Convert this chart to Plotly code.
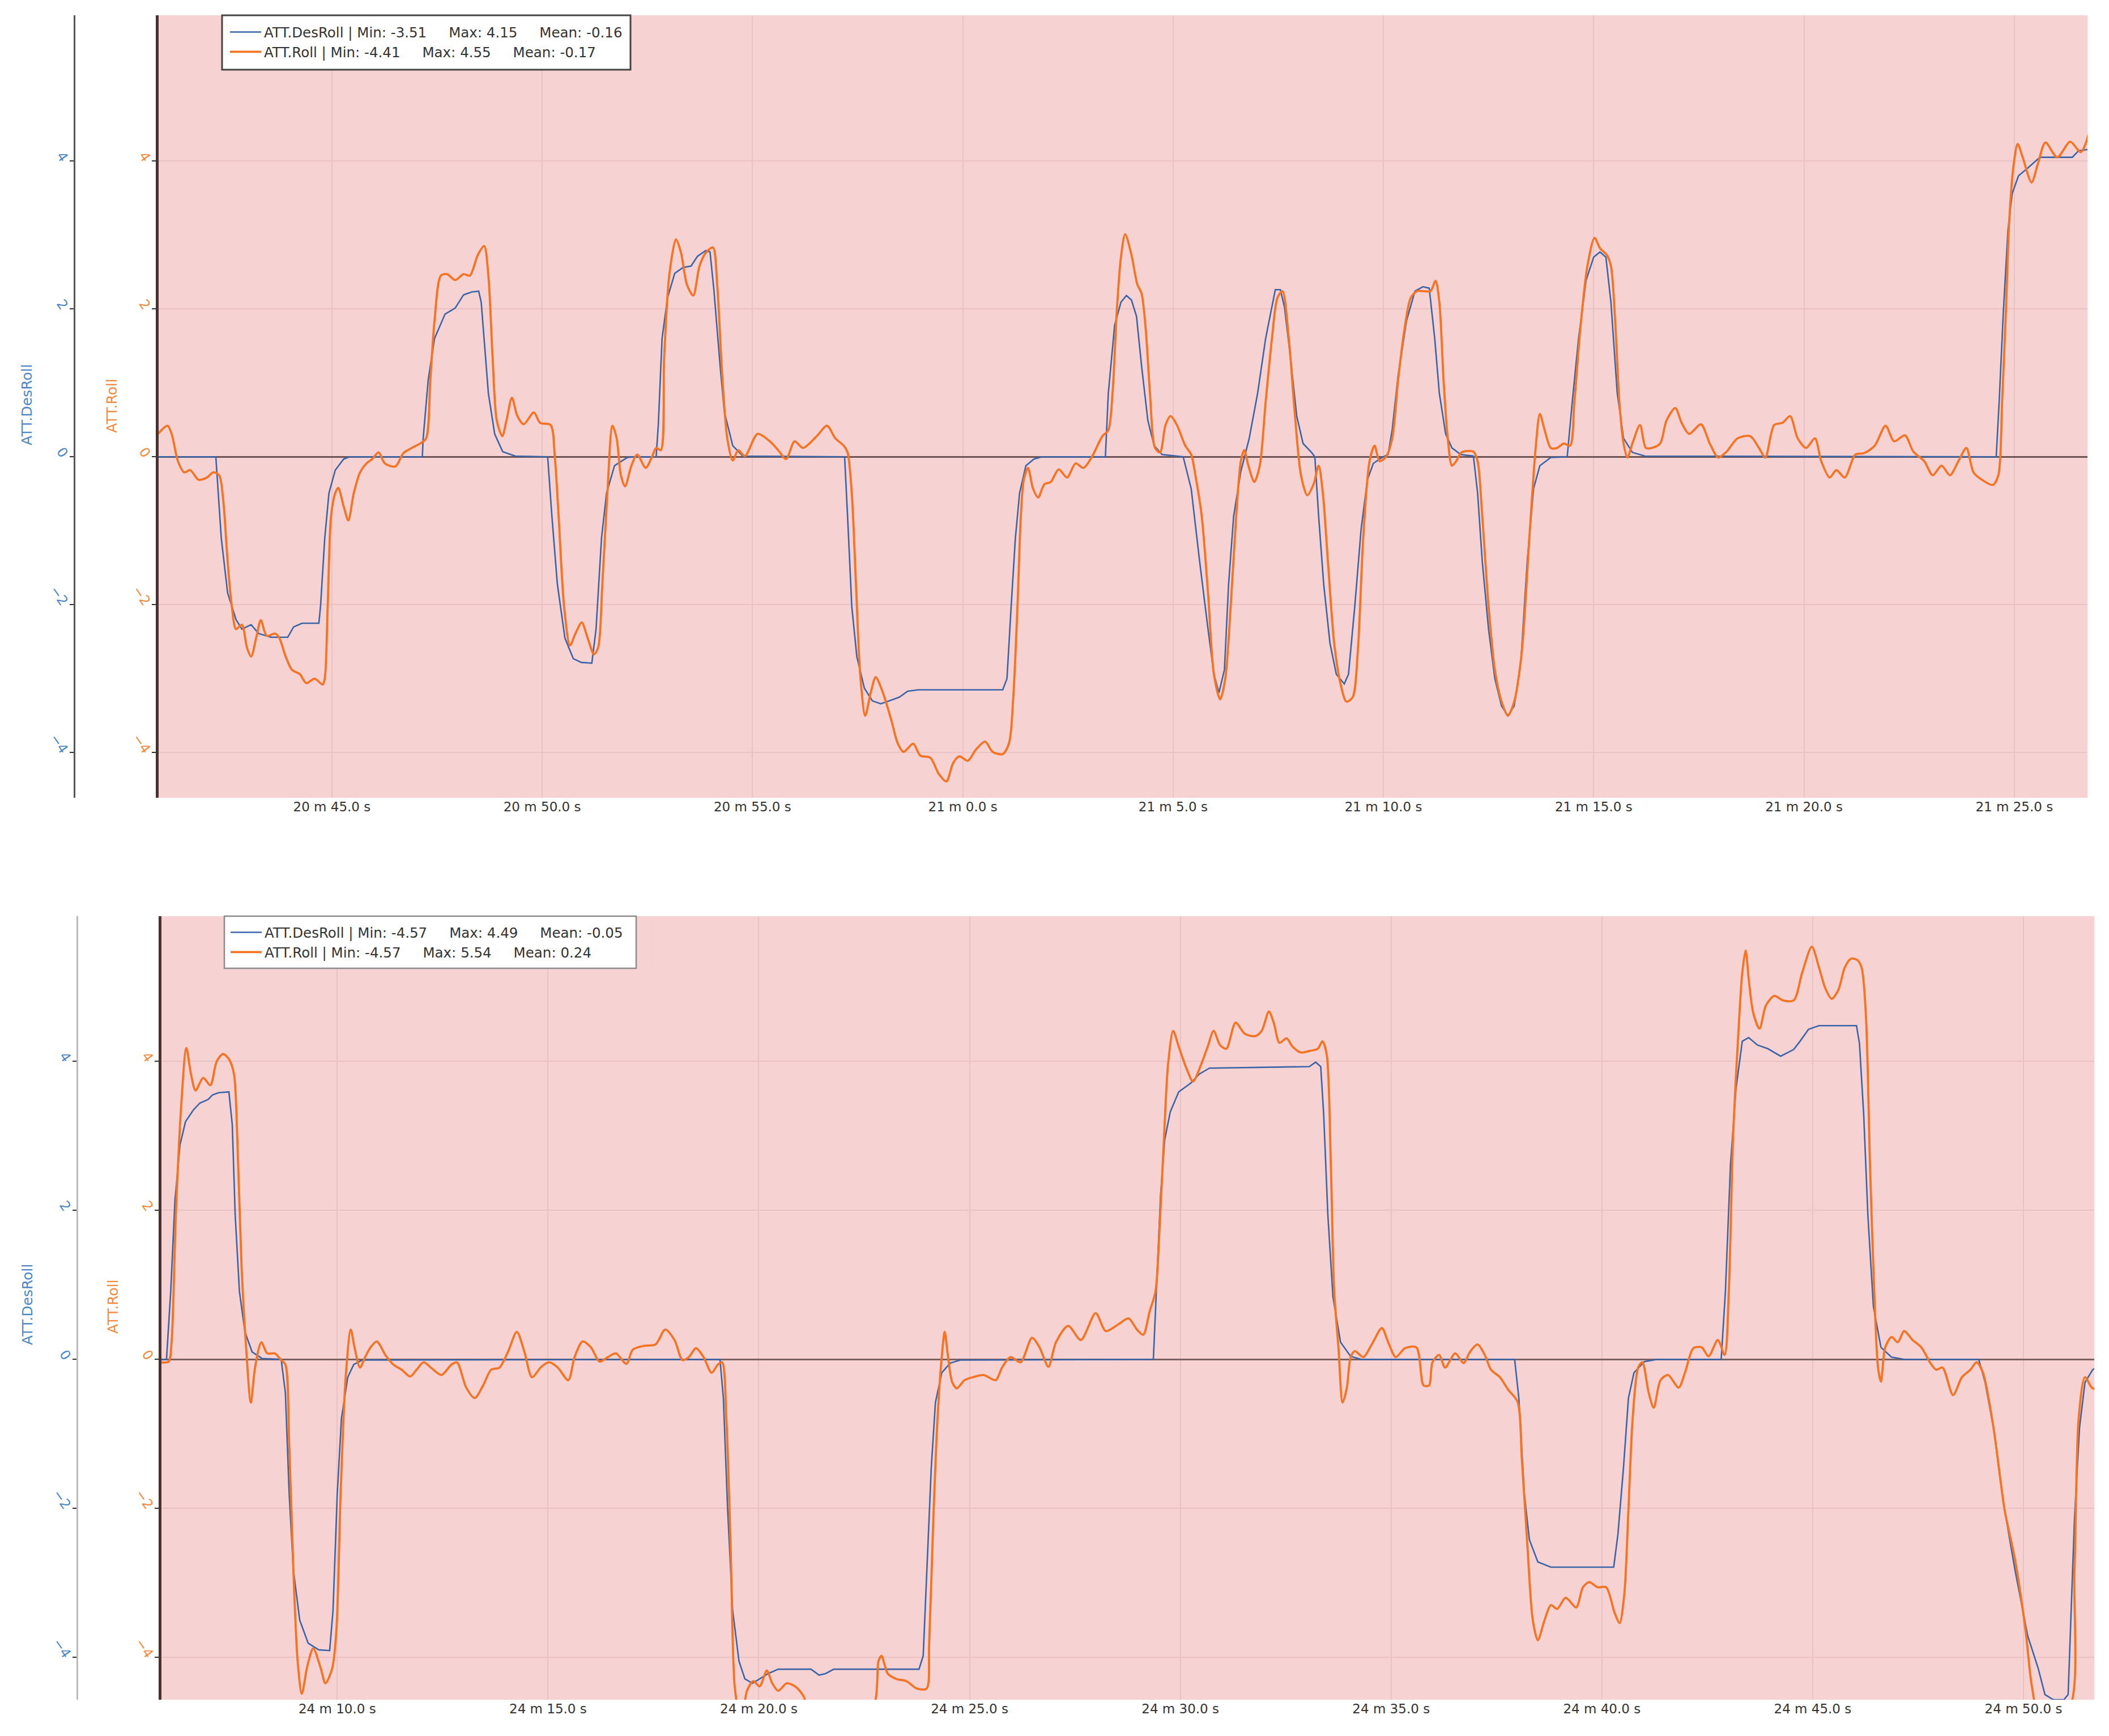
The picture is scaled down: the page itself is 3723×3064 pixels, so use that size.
import plotly.graph_objects as go

# ---------------- data (seconds after 20 m / 24 m) ----------------
top_des_t = [40.85, 42.24, 42.37, 42.52, 42.72, 42.86, 43.08, 43.26, 43.55, 43.95, 44.09, 44.29, 44.69, 44.73,
             44.83, 44.93, 45.08, 45.28, 45.42, 47.15, 47.17, 47.29, 47.44, 47.69, 47.93, 48.00, 48.13, 48.33,
             48.49, 48.55, 48.62, 48.72, 48.87, 49.06, 49.36, 50.13, 50.23, 50.36, 50.54, 50.74, 50.93, 51.18,
             51.28, 51.41, 51.53, 51.72, 52.02, 52.21, 52.71, 52.76, 52.85, 52.98, 53.15, 53.35, 53.54, 53.69,
             53.89, 53.99, 54.08, 54.23, 54.33, 54.53, 54.77, 57.19, 57.26, 57.36, 57.48, 57.66, 57.85, 58.05,
             58.25, 58.49, 58.69, 58.94, 60.95, 61.05, 61.15, 61.25, 61.35, 61.50, 61.69, 61.89, 63.39, 63.46,
             63.61, 63.76, 63.89, 64.01, 64.13, 64.25, 64.40, 64.55, 64.74, 65.24, 65.43, 65.63, 65.83, 65.97,
             66.09, 66.22, 66.32, 66.44, 66.61, 66.81, 67.01, 67.20, 67.43, 67.55, 67.65, 67.80, 67.94, 68.09,
             68.29, 68.37, 68.46, 68.58, 68.73, 68.88, 69.07, 69.17, 69.32, 69.47, 69.62, 69.76, 69.96, 70.11,
             70.21, 70.35, 70.55, 70.75, 70.94, 71.09, 71.22, 71.33, 71.48, 71.63, 71.84, 72.14, 72.24, 72.35,
             72.50, 72.65, 72.81, 72.96, 73.11, 73.27, 73.42, 73.57, 73.72, 73.98, 74.37, 74.49, 74.64, 74.82,
             75.00, 75.15, 75.29, 75.41, 75.56, 75.71, 75.92, 76.22, 84.57, 84.64, 84.74, 84.85, 84.95, 85.10,
             85.31, 85.61, 86.38, 86.53, 86.82]
top_des_v = [0, 0, -1.10, -1.84, -2.20, -2.33, -2.27, -2.39, -2.44, -2.44, -2.30, -2.25, -2.25, -2.02,
             -1.10, -0.49, -0.18, -0.03, 0, 0, 0.25, 1.04, 1.60, 1.93, 2.01, 2.07, 2.19, 2.23,
             2.24, 2.09, 1.60, 0.86, 0.31, 0.07, 0.01, 0, -0.80, -1.72, -2.45, -2.73, -2.78, -2.79,
             -2.33, -1.10, -0.49, -0.12, -0.01, 0, 0, 0.43, 1.60, 2.15, 2.48, 2.56, 2.58, 2.71,
             2.79, 2.77, 2.27, 1.23, 0.61, 0.15, 0.01, 0, -0.80, -2.02, -2.70, -3.13, -3.30, -3.34,
             -3.30, -3.25, -3.17, -3.15, -3.15, -3.00, -2.02, -1.10, -0.49, -0.12, -0.03, 0, 0, 0.86,
             1.78, 2.09, 2.18, 2.12, 1.90, 1.23, 0.49, 0.15, 0.03, 0, -0.43, -1.41, -2.33, -2.94,
             -3.19, -2.88, -1.72, -0.80, -0.20, 0.25, 0.86, 1.60, 2.26, 2.26, 2.02, 1.29, 0.55, 0.18,
             0.06, 0, -0.80, -1.72, -2.52, -2.94, -3.07, -2.94, -2.02, -0.98, -0.31, -0.09, -0.01, 0.03,
             0.37, 1.10, 1.84, 2.24, 2.30, 2.28, 1.60, 0.86, 0.31, 0.12, 0.03, 0.01, -0.49, -1.41,
             -2.33, -3.00, -3.37, -3.50, -3.37, -2.76, -1.41, -0.43, -0.12, -0.01, 0, 0.74, 1.60, 2.39,
             2.70, 2.77, 2.70, 2.09, 0.86, 0.25, 0.06, 0.01, 0, 0.74, 1.96, 3.07, 3.56, 3.80,
             3.90, 4.05, 4.05, 4.14, 4.16]

top_roll_t = [40.85, 41.09, 41.19, 41.34, 41.49, 41.63, 41.83, 42.03, 42.18, 42.32, 42.42, 42.52, 42.62, 42.72,
              42.86, 42.98, 43.08, 43.21, 43.31, 43.45, 43.65, 43.75, 43.90, 44.05, 44.24, 44.39, 44.59, 44.78,
              44.83, 44.90, 44.98, 45.08, 45.15, 45.28, 45.39, 45.52, 45.67, 45.82, 45.96, 46.11, 46.26, 46.51,
              46.70, 46.90, 47.10, 47.24, 47.34, 47.44, 47.59, 47.74, 47.93, 48.13, 48.28, 48.47, 48.62, 48.72,
              48.82, 48.92, 49.05, 49.15, 49.28, 49.41, 49.56, 49.80, 49.95, 50.20, 50.30, 50.39, 50.52, 50.66,
              50.79, 50.94, 51.08, 51.23, 51.33, 51.43, 51.55, 51.67, 51.77, 51.87, 51.97, 52.12, 52.26, 52.46,
              52.61, 52.71, 52.82, 52.90, 53.02, 53.18, 53.30, 53.44, 53.59, 53.74, 53.89, 54.06, 54.16, 54.28,
              54.40, 54.53, 54.66, 54.82, 55.12, 55.41, 55.61, 55.80, 56.00, 56.20, 56.53, 56.77, 56.97, 57.17,
              57.26, 57.36, 57.46, 57.56, 57.68, 57.81, 57.93, 58.10, 58.30, 58.45, 58.59, 58.82, 58.99, 59.23,
              59.43, 59.61, 59.77, 59.92, 60.12, 60.31, 60.53, 60.71, 60.95, 61.10, 61.20, 61.30, 61.38, 61.45,
              61.55, 61.67, 61.79, 61.94, 62.09, 62.28, 62.48, 62.68, 62.87, 63.07, 63.32, 63.46, 63.56, 63.66,
              63.76, 63.86, 64.01, 64.15, 64.25, 64.35, 64.45, 64.57, 64.69, 64.82, 64.94, 65.09, 65.29, 65.43,
              65.53, 65.68, 65.83, 65.97, 66.12, 66.24, 66.37, 66.50, 66.61, 66.69, 66.79, 66.93, 67.06, 67.20,
              67.35, 67.48, 67.60, 67.75, 67.89, 68.04, 68.19, 68.34, 68.46, 68.56, 68.68, 68.83, 68.98, 69.12,
              69.27, 69.39, 69.52, 69.67, 69.79, 69.91, 70.06, 70.21, 70.35, 70.50, 70.65, 70.80, 70.94, 71.12,
              71.24, 71.33, 71.43, 71.53, 71.63, 71.73, 71.86, 72.14, 72.24, 72.35, 72.50, 72.65, 72.81, 72.96,
              73.11, 73.29, 73.47, 73.62, 73.72, 73.83, 73.98, 74.13, 74.29, 74.44, 74.54, 74.69, 74.85, 75.02,
              75.15, 75.31, 75.41, 75.51, 75.61, 75.71, 75.80, 75.92, 76.10, 76.24, 76.38, 76.58, 76.73, 76.94,
              77.09, 77.27, 77.55, 77.76, 77.96, 78.16, 78.42, 78.72, 78.93, 79.08, 79.29, 79.49, 79.67, 79.85,
              80.05, 80.26, 80.41, 80.61, 80.77, 80.97, 81.22, 81.43, 81.68, 81.94, 82.14, 82.40, 82.60, 82.86,
              83.06, 83.27, 83.47, 83.67, 83.86, 84.03, 84.23, 84.49, 84.62, 84.71, 84.80, 84.88, 84.98, 85.08,
              85.20, 85.41, 85.56, 85.74, 86.02, 86.33, 86.58, 86.73, 86.82]
top_roll_v = [0.30, 0.42, 0.31, -0.06, -0.21, -0.18, -0.31, -0.28, -0.21, -0.25, -0.61, -1.41, -2.02, -2.33,
              -2.27, -2.58, -2.70, -2.42, -2.21, -2.42, -2.39, -2.45, -2.70, -2.88, -2.94, -3.06, -3.00, -3.08,
              -3.00, -2.02, -0.80, -0.49, -0.42, -0.67, -0.86, -0.49, -0.21, -0.09, -0.03, 0.06, -0.09, -0.13,
              0.05, 0.12, 0.18, 0.25, 1.04, 1.84, 2.45, 2.47, 2.39, 2.47, 2.45, 2.73, 2.85, 2.45,
              1.35, 0.49, 0.28, 0.49, 0.80, 0.55, 0.44, 0.60, 0.46, 0.43, 0.00, -0.80, -2.02, -2.55,
              -2.39, -2.24, -2.45, -2.67, -2.58, -1.72, -0.49, 0.42, 0.25, -0.25, -0.40, -0.12, 0.03, -0.15,
              0.00, 0.12, 0.09, 1.35, 2.45, 2.94, 2.76, 2.33, 2.18, 2.58, 2.76, 2.83, 2.33, 1.10,
              0.25, -0.05, 0.09, 0.01, 0.31, 0.21, 0.09, -0.03, 0.21, 0.12, 0.28, 0.42, 0.25, 0.15,
              0.06, -0.49, -1.72, -2.94, -3.50, -3.19, -2.98, -3.19, -3.56, -3.87, -3.99, -3.88, -4.04, -4.07,
              -4.29, -4.39, -4.14, -4.05, -4.11, -3.96, -3.85, -3.99, -4.02, -3.87, -3.25, -2.02, -0.80, -0.31,
              -0.15, -0.43, -0.55, -0.37, -0.34, -0.17, -0.28, -0.09, -0.15, 0.00, 0.28, 0.36, 0.86, 1.96,
              2.70, 3.01, 2.73, 2.33, 2.21, 1.72, 0.86, 0.12, 0.06, 0.43, 0.55, 0.43, 0.15, 0.03,
              -0.25, -0.80, -1.84, -2.94, -3.28, -3.00, -2.02, -0.80, -0.06, 0.09, -0.12, -0.34, -0.12, 0.74,
              1.60, 2.15, 2.24, 1.60, 0.61, -0.25, -0.52, -0.37, -0.12, -0.49, -1.41, -2.52, -3.07, -3.31,
              -3.25, -2.64, -1.10, -0.06, 0.15, -0.06, 0.00, 0.25, 1.04, 1.72, 2.15, 2.24, 2.24, 2.24,
              2.38, 2.09, 1.04, 0.25, -0.12, -0.06, 0.06, 0.07, -0.06, -0.80, -2.02, -2.88, -3.31, -3.50,
              -3.31, -2.64, -1.10, 0.12, 0.58, 0.37, 0.12, 0.12, 0.18, 0.15, 0.74, 1.78, 2.58, 2.96,
              2.82, 2.73, 2.58, 1.84, 0.74, 0.18, -0.01, 0.18, 0.43, 0.12, 0.12, 0.18, 0.49, 0.66,
              0.46, 0.31, 0.44, 0.18, -0.01, 0.07, 0.25, 0.28, 0.12, -0.01, 0.43, 0.46, 0.55, 0.25,
              0.12, 0.25, -0.06, -0.28, -0.18, -0.28, 0.03, 0.05, 0.15, 0.42, 0.21, 0.29, 0.07, -0.06,
              -0.25, -0.12, -0.25, -0.06, 0.12, -0.21, -0.31, -0.38, -0.25, 0.74, 1.96, 3.19, 3.93, 4.23,
              4.05, 3.71, 3.96, 4.25, 4.05, 4.26, 4.12, 4.29, 4.55]

bot_des_t = [5.80, 5.95, 6.05, 6.15, 6.27, 6.40, 6.59, 6.74, 6.94, 7.04, 7.19, 7.43, 7.51, 7.58, 7.68, 7.81,
             7.98, 8.22, 8.67, 8.77, 8.86, 8.96, 9.11, 9.31, 9.56, 9.82, 9.90, 10.00, 10.10, 10.25, 10.39,
             10.59, 19.08, 19.16, 19.26, 19.38, 19.53, 19.67, 19.85, 20.02, 20.22, 20.46, 21.24, 21.43, 21.58,
             21.78, 23.80, 23.90, 23.99, 24.09, 24.19, 24.34, 24.54, 24.78, 29.36, 29.43, 29.53, 29.63, 29.76,
             29.96, 30.25, 30.45, 30.69, 33.06, 33.21, 33.33, 33.40, 33.50, 33.62, 33.80, 34.04, 34.29, 37.93,
             38.03, 38.16, 38.28, 38.48, 38.79, 40.28, 40.38, 40.51, 40.63, 40.76, 41.01, 41.31, 42.83, 42.93,
             43.05, 43.18, 43.33, 43.48, 43.69, 43.94, 44.24, 44.55, 44.70, 44.90, 45.15, 46.04, 46.11, 46.21,
             46.31, 46.44, 46.62, 46.87, 47.17, 48.94, 49.09, 49.29, 49.55, 49.80, 50.10, 50.35, 50.51, 50.71,
             50.96, 51.06, 51.21, 51.33, 51.46, 51.64, 51.70]
bot_des_v = [0, 0, 0.91, 2.13, 2.88, 3.19, 3.35, 3.44, 3.49, 3.55, 3.58, 3.59, 3.15, 1.93, 0.91, 0.37,
             0.10, 0.01, 0, -0.45, -1.81, -2.83, -3.50, -3.81, -3.90, -3.91, -3.37, -1.81, -0.79, -0.24, -0.07,
             -0.01, 0, -0.52, -2.01, -3.37, -4.05, -4.29, -4.35, -4.29, -4.22, -4.16, -4.16, -4.24, -4.22,
             -4.16, -4.16, -3.98, -2.83, -1.47, -0.58, -0.18, -0.05, -0.01, 0, 0.91, 2.20, 2.95, 3.32,
             3.59, 3.71, 3.83, 3.91, 3.93, 3.99, 3.93, 3.29, 1.93, 0.84, 0.23, 0.04, 0, 0,
             -0.52, -1.81, -2.42, -2.72, -2.79, -2.79, -2.35, -1.47, -0.52, -0.18, -0.03, 0, 0, 0.91,
             2.61, 3.63, 4.27, 4.32, 4.22, 4.17, 4.07, 4.16, 4.27, 4.43, 4.48, 4.48, 4.24, 3.29,
             1.93, 0.71, 0.16, 0.03, 0, 0, -0.31, -0.92, -2.01, -2.83, -3.71, -4.15, -4.50, -4.57,
             -4.57, -4.50, -2.15, -0.92, -0.31, -0.14, -0.12]

bot_roll_t = [5.80, 6.00, 6.07, 6.17, 6.30, 6.42, 6.53, 6.64, 6.82, 6.99, 7.14, 7.29, 7.43, 7.55, 7.63, 7.73,
              7.83, 7.95, 8.05, 8.20, 8.34, 8.52, 8.67, 8.77, 8.86, 8.96, 9.06, 9.16, 9.29, 9.43, 9.61, 9.72,
              9.88, 9.98, 10.08, 10.20, 10.32, 10.41, 10.54, 10.66, 10.79, 10.94, 11.14, 11.33, 11.53, 11.73,
              11.88, 12.05, 12.22, 12.47, 12.71, 12.84, 13.06, 13.26, 13.46, 13.65, 13.85, 14.05, 14.26, 14.44,
              14.62, 14.84, 15.03, 15.23, 15.48, 15.63, 15.82, 16.02, 16.22, 16.42, 16.61, 16.86, 17.01, 17.26,
              17.55, 17.78, 18.00, 18.19, 18.34, 18.51, 18.69, 18.88, 19.03, 19.13, 19.23, 19.33, 19.43, 19.53,
              19.62, 19.72, 19.87, 20.02, 20.19, 20.32, 20.46, 20.66, 20.86, 21.06, 21.20, 22.67, 22.84, 22.91,
              23.06, 23.26, 23.50, 23.75, 23.98, 24.04, 24.14, 24.24, 24.34, 24.41, 24.49, 24.59, 24.70, 24.88,
              25.08, 25.33, 25.62, 25.77, 25.97, 26.21, 26.48, 26.66, 26.87, 27.05, 27.34, 27.64, 27.99, 28.23,
              28.53, 28.77, 28.97, 29.12, 29.27, 29.41, 29.51, 29.61, 29.71, 29.83, 29.96, 30.15, 30.30, 30.50,
              30.65, 30.79, 30.94, 31.09, 31.31, 31.53, 31.78, 31.93, 32.10, 32.22, 32.35, 32.52, 32.66, 32.86,
              33.06, 33.26, 33.37, 33.47, 33.57, 33.65, 33.75, 33.85, 33.95, 34.04, 34.14, 34.34, 34.54, 34.78,
              34.93, 35.11, 35.33, 35.60, 35.77, 35.90, 35.98, 36.14, 36.28, 36.52, 36.72, 36.87, 37.05, 37.22,
              37.37, 37.58, 37.78, 38.00, 38.10, 38.23, 38.36, 38.48, 38.64, 38.79, 38.94, 39.14, 39.39, 39.55,
              39.70, 39.90, 40.10, 40.30, 40.42, 40.53, 40.63, 40.73, 40.86, 40.96, 41.11, 41.23, 41.39, 41.57,
              41.82, 41.97, 42.17, 42.37, 42.53, 42.75, 42.91, 43.01, 43.11, 43.23, 43.33, 43.41, 43.48, 43.59,
              43.74, 43.89, 44.09, 44.29, 44.55, 44.75, 44.98, 45.15, 45.30, 45.45, 45.61, 45.76, 45.91, 46.06,
              46.16, 46.26, 46.36, 46.46, 46.55, 46.62, 46.72, 46.87, 47.02, 47.17, 47.37, 47.58, 47.78, 47.93,
              48.08, 48.33, 48.54, 48.74, 48.89, 49.04, 49.29, 49.55, 49.80, 50.05, 50.20, 50.35, 51.06, 51.21,
              51.31, 51.46, 51.62, 51.70]
bot_roll_v = [-0.04, -0.03, 0.23, 1.93, 3.42, 4.18, 3.83, 3.61, 3.78, 3.68, 4.00, 4.10, 4.03, 3.83, 2.95, 1.25,
              0.23, -0.58, -0.11, 0.23, 0.08, 0.08, -0.01, -0.07, -1.13, -2.83, -4.05, -4.49, -4.12, -3.88, -4.15, -4.35,
              -4.15, -3.64, -1.81, -0.24, 0.40, 0.16, -0.11, 0.03, 0.16, 0.24, 0.06, -0.07, -0.14, -0.23,
              -0.14, -0.04, -0.11, -0.21, -0.07, -0.04, -0.38, -0.52, -0.35, -0.14, -0.11, 0.10, 0.37, 0.10,
              -0.24, -0.10, -0.04, -0.11, -0.28, 0.03, 0.24, 0.16, -0.03, 0.03, 0.08, -0.06, 0.13, 0.18,
              0.20, 0.40, 0.26, -0.01, 0.03, 0.15, 0.03, -0.18, -0.07, -0.04, -0.79, -2.49, -4.40, -4.70,
              -4.70, -4.45, -4.32, -4.39, -4.18, -4.35, -4.45, -4.35, -4.39, -4.52, -4.70, -4.70, -4.05, -3.98,
              -4.22, -4.29, -4.32, -4.42, -4.42, -3.84, -2.15, -0.79, 0.03, 0.37, 0.03, -0.31, -0.39, -0.28,
              -0.24, -0.21, -0.28, -0.11, 0.03, -0.04, 0.29, 0.16, -0.10, 0.23, 0.45, 0.26, 0.62, 0.38,
              0.47, 0.55, 0.40, 0.33, 0.64, 0.91, 1.79, 2.95, 3.97, 4.41, 4.20, 3.90, 3.73, 3.97,
              4.20, 4.41, 4.22, 4.17, 4.52, 4.37, 4.34, 4.41, 4.67, 4.51, 4.25, 4.31, 4.20, 4.12,
              4.14, 4.17, 4.27, 4.10, 2.61, 0.91, 0.16, -0.58, -0.38, 0.03, 0.11, 0.03, 0.20, 0.42,
              0.23, 0.03, 0.15, 0.16, -0.35, -0.35, -0.04, 0.06, -0.11, 0.08, -0.05, 0.10, 0.20, 0.06,
              -0.14, -0.24, -0.41, -0.57, -1.33, -2.48, -3.50, -3.77, -3.50, -3.30, -3.35, -3.20, -3.33, -3.06,
              -2.99, -3.06, -3.06, -3.40, -3.54, -3.16, -2.01, -0.79, -0.11, -0.04, -0.45, -0.65, -0.28, -0.21,
              -0.38, -0.18, 0.15, 0.16, 0.04, 0.26, 0.06, 0.91, 2.95, 4.31, 5.19, 5.49, 5.12, 4.65,
              4.44, 4.75, 4.88, 4.82, 4.82, 5.19, 5.54, 5.26, 4.98, 4.84, 4.96, 5.26, 5.38, 5.36,
              5.26, 4.65, 2.61, 0.91, -0.11, -0.30, 0.16, 0.30, 0.23, 0.38, 0.26, 0.16, -0.04, -0.14,
              -0.11, -0.48, -0.24, -0.14, -0.04, -0.18, -0.92, -2.01, -2.69, -3.64, -4.39, -4.70, -4.70, -2.83,
              -0.79, -0.24, -0.38, -0.40]

top_tick_vals = [45, 50, 55, 60, 65, 70, 75, 80, 85]
top_tick_text = ["20 m 45.0 s", "20 m 50.0 s", "20 m 55.0 s", "21 m 0.0 s", "21 m 5.0 s",
                 "21 m 10.0 s", "21 m 15.0 s", "21 m 20.0 s", "21 m 25.0 s"]
bot_tick_vals = [10, 15, 20, 25, 30, 35, 40, 45, 50]
bot_tick_text = ["24 m 10.0 s", "24 m 15.0 s", "24 m 20.0 s", "24 m 25.0 s", "24 m 30.0 s",
                 "24 m 35.0 s", "24 m 40.0 s", "24 m 45.0 s", "24 m 50.0 s"]
y_tick_vals = [-4, -2, 0, 2, 4]

top_stats = {"ATT.DesRoll": ("-3.51", "4.15", "-0.16"), "ATT.Roll": ("-4.41", "4.55", "-0.17")}
bot_stats = {"ATT.DesRoll": ("-4.57", "4.49", "-0.05"), "ATT.Roll": ("-4.57", "5.54", "0.24")}

# ---------------- styling ----------------
W, H = 3723, 3064
FONT = "Verdana, DejaVu Sans, sans-serif"
BLUE = "#3a64a8"
ORANGE = "#f47424"
BLUE_TXT = "#4a86c8"
ORANGE_TXT = "#f5883a"
PLOT_BG = "#f7d2d3"
GRID = "#ebc2c3"
GAP = "\u00a0" * 5


def label(name, stats):
    mn, mx, me = stats[name]
    return f"{name} | Min: {mn}{GAP}Max: {mx}{GAP}Mean: {me}"


fig = go.Figure()
fig.add_trace(go.Scatter(x=top_des_t, y=top_des_v, mode="lines", name=label("ATT.DesRoll", top_stats),
                         line=dict(color=BLUE, width=2.6), xaxis="x", yaxis="y", legend="legend"))
fig.add_trace(go.Scatter(x=top_roll_t, y=top_roll_v, mode="lines", name=label("ATT.Roll", top_stats),
                         line=dict(color=ORANGE, width=3.8, shape="spline", smoothing=0.8),
                         xaxis="x", yaxis="y2", legend="legend"))
fig.add_trace(go.Scatter(x=bot_des_t, y=bot_des_v, mode="lines", name=label("ATT.DesRoll", bot_stats),
                         line=dict(color=BLUE, width=2.6), xaxis="x2", yaxis="y3", legend="legend2"))
fig.add_trace(go.Scatter(x=bot_roll_t, y=bot_roll_v, mode="lines", name=label("ATT.Roll", bot_stats),
                         line=dict(color=ORANGE, width=3.8, shape="spline", smoothing=0.8),
                         xaxis="x2", yaxis="y4", legend="legend2"))

top_dom = [1 - 1408 / H, 1 - 27 / H]
bot_dom = [1 - 3000 / H, 1 - 1617 / H]
top_range = [-4.61, 5.97]
bot_range = [-4.57, 5.95]

xcommon = dict(showgrid=True, gridcolor=GRID, gridwidth=2, zeroline=False, showline=False, ticks="",
               tickfont=dict(family=FONT, size=23, color="#333333"))
ytick_common = dict(tickvals=y_tick_vals, ticks="outside", ticklen=7, tickwidth=2, tickcolor="#333333",
                    tickangle=55)

legend_common = dict(xanchor="left", yanchor="top", bgcolor="rgba(0,0,0,0)", borderwidth=0,
                     font=dict(family=FONT, size=24.5, color="#333333"), itemwidth=55, tracegroupgap=0)

fig.update_layout(
    width=W, height=H, margin=dict(l=0, r=0, t=0, b=0),
    paper_bgcolor="white", plot_bgcolor=PLOT_BG, font=dict(family=FONT),
    xaxis=dict(domain=[280 / W, 3685 / W], range=[40.88, 86.74], anchor="y",
               tickvals=top_tick_vals, ticktext=top_tick_text, **xcommon),
    yaxis=dict(domain=top_dom, range=top_range, anchor="free", position=130.5 / W, side="left",
               showline=True, linecolor="#555555", linewidth=3, showgrid=False, zeroline=False,
               tickfont=dict(family=FONT, size=24, color=BLUE_TXT), **ytick_common),
    yaxis2=dict(overlaying="y", range=top_range, anchor="x", side="left",
                showline=True, linecolor="#4a3232", linewidth=5, showgrid=True, gridcolor=GRID, gridwidth=2,
                zeroline=True, zerolinecolor="#6d5454", zerolinewidth=3,
                tickfont=dict(family=FONT, size=24, color=ORANGE_TXT), **ytick_common),
    xaxis2=dict(domain=[285 / W, 3697 / W], range=[5.83, 51.68], anchor="y3",
                tickvals=bot_tick_vals, ticktext=bot_tick_text, **xcommon),
    yaxis3=dict(domain=bot_dom, range=bot_range, anchor="free", position=135.5 / W, side="left",
                showline=True, linecolor="#bbbbbb", linewidth=3, showgrid=False, zeroline=False,
                tickfont=dict(family=FONT, size=24, color=BLUE_TXT), **ytick_common),
    yaxis4=dict(overlaying="y3", range=bot_range, anchor="x2", side="left",
                showline=True, linecolor="#4a3232", linewidth=5, showgrid=True, gridcolor=GRID, gridwidth=2,
                zeroline=True, zerolinecolor="#7a6262", zerolinewidth=3,
                tickfont=dict(family=FONT, size=24, color=ORANGE_TXT), **ytick_common),
    legend=dict(x=401 / W, y=1 - 34 / H, **legend_common),
    legend2=dict(x=402 / W, y=1 - 1623 / H, **legend_common),
    showlegend=True,
)

# legend frames (white boxes behind the legend entries)
for (x0, y0, x1, y1, col, lw) in [(392, 27, 1113, 123, "#444444", 3), (396, 1617, 1123, 1709, "#8a8a8a", 2.5)]:
    fig.add_shape(type="rect", xref="paper", yref="paper", x0=x0 / W, x1=x1 / W, y0=1 - y1 / H, y1=1 - y0 / H,
                  fillcolor="white", line=dict(color=col, width=lw), layer="above")

ann = [
    ("ATT.DesRoll", 47, 715, BLUE_TXT),
    ("ATT.Roll", 197, 716, ORANGE_TXT),
    ("ATT.DesRoll", 48, 2303, BLUE_TXT),
    ("ATT.Roll", 199, 2306, ORANGE_TXT),
]
for text, px, py, col in ann:
    fig.add_annotation(text=text, x=px / W, y=1 - py / H, xref="paper", yref="paper", showarrow=False,
                       textangle=-90, xanchor="center", yanchor="middle",
                       font=dict(family=FONT, size=25, color=col))

fig.write_html("out.html", config={"displayModeBar": False},
               post_script="document.body.style.margin='0';document.body.style.overflow='hidden';")
